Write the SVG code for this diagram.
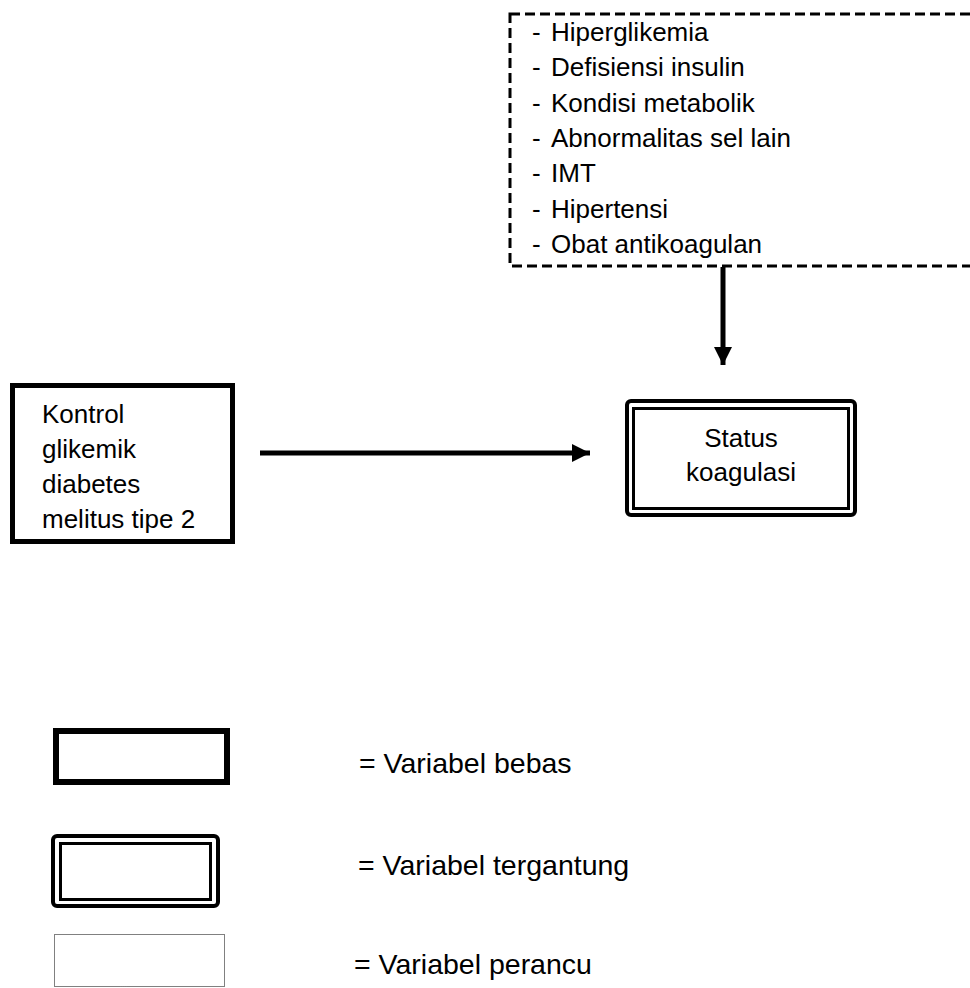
<svg xmlns="http://www.w3.org/2000/svg" width="970" height="988" viewBox="0 0 970 988">
<style>
text{font-family:"Liberation Sans",Arial,sans-serif;font-size:26px;fill:#000}
.lg{font-size:28.5px}
.bold{fill:#fff;stroke:#000;stroke-width:5}
.outer{fill:#fff;stroke:#000;stroke-width:4}
.inner{fill:none;stroke:#000;stroke-width:3}
.conn{stroke:#000;stroke-width:5;fill:none}
</style>
<defs>
<marker id="ah" viewBox="0 0 10 10" refX="10" refY="5" markerUnits="userSpaceOnUse" markerWidth="18" markerHeight="18" orient="auto">
<path d="M0,0 L10,5 L0,10 Z" fill="#000"/>
</marker>
</defs>
<rect width="970" height="988" fill="#fff"/>
<g id="confounders">
<rect x="510" y="14" width="480" height="252" fill="#fff" stroke="#000" stroke-width="3" stroke-dasharray="10,5"/>
<text x="532" y="41">-</text><text x="551" y="41">Hiperglikemia</text>
<text x="532" y="76">-</text><text x="551" y="76">Defisiensi insulin</text>
<text x="532" y="111.5">-</text><text x="551" y="111.5">Kondisi metabolik</text>
<text x="532" y="147">-</text><text x="551" y="147">Abnormalitas sel lain</text>
<text x="532" y="182">-</text><text x="551" y="182">IMT</text>
<text x="532" y="217.5">-</text><text x="551" y="217.5">Hipertensi</text>
<text x="532" y="253">-</text><text x="551" y="253">Obat antikoagulan</text>
</g>
<g id="independent">
<rect class="bold" x="12.5" y="385.5" width="220" height="156"/>
<text x="42" y="423">Kontrol</text>
<text x="42" y="458">glikemik</text>
<text x="42" y="493">diabetes</text>
<text x="42" y="528">melitus tipe 2</text>
</g>
<g id="dependent">
<rect class="outer" x="627" y="401" width="228" height="114" rx="4"/>
<rect class="inner" x="633.5" y="408.5" width="215" height="100"/>
<text x="741" y="447" text-anchor="middle">Status</text>
<text x="741" y="481" text-anchor="middle">koagulasi</text>
</g>
<g id="connectors">
<line class="conn" x1="260" y1="453" x2="590" y2="453" marker-end="url(#ah)"/>
<line class="conn" x1="723" y1="267" x2="723" y2="365" marker-end="url(#ah)"/>
</g>
<g id="legend-bebas">
<rect x="56" y="731" width="171" height="51" fill="#fff" stroke="#000" stroke-width="6"/>
<text class="lg" x="359" y="773">= Variabel bebas</text>
</g>
<g id="legend-tergantung">
<rect class="outer" x="53" y="836" width="165" height="70" rx="4"/>
<rect class="inner" x="60.5" y="843.5" width="150" height="56"/>
<text class="lg" x="358" y="875">= Variabel tergantung</text>
</g>
<g id="legend-perancu">
<rect x="54.5" y="934.5" width="170" height="52" fill="#fff" stroke="#000" stroke-width="1" stroke-dasharray="1,1"/>
<text class="lg" x="354" y="974">= Variabel perancu</text>
</g>
</svg>
